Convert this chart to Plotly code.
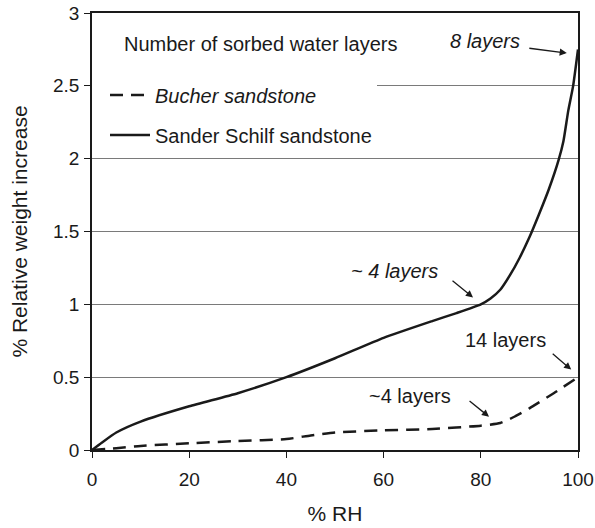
import plotly.graph_objects as go

# % RH and % relative weight increase
rh_schilf = [0, 2, 5, 10, 20, 30, 40, 50, 60, 70, 75, 80, 82, 84, 86, 88, 90, 92, 94, 96, 97, 98, 99, 100]
wt_schilf = [0, 0.05, 0.12, 0.195, 0.30, 0.39, 0.50, 0.63, 0.77, 0.885, 0.94, 1.0, 1.04, 1.10, 1.20,
             1.32, 1.46, 1.62, 1.79, 1.99, 2.12, 2.33, 2.5, 2.75]

rh_bucher = [0, 5, 10, 20, 30, 40, 45, 50, 60, 70, 80, 84, 87, 90, 95, 100]
wt_bucher = [0, 0.012, 0.028, 0.046, 0.062, 0.075, 0.10, 0.12, 0.135, 0.144, 0.167, 0.185,
             0.23, 0.286, 0.39, 0.50]

FONT = "Liberation Sans, Arial, sans-serif"
INK = "#1a1a1a"

fig = go.Figure()
fig.add_trace(go.Scatter(
    x=rh_bucher, y=wt_bucher, mode="lines", name="<i>Bucher sandstone</i>", legendgroup="a",
    line={"color": INK, "width": 2.5, "dash": "13px,8px", "shape": "spline", "smoothing": 0.5},
))
fig.add_trace(go.Scatter(
    x=rh_schilf, y=wt_schilf, mode="lines", name="Sander Schilf sandstone", legendgroup="b",
    line={"color": INK, "width": 2.5, "shape": "spline", "smoothing": 0.5},
))

# text labels
labels = [
    ("Number of sorbed water layers", 6.1, 2.787, "left", False),
    ("8 layers", 80.8, 2.81, "center", True),
    ("~ 4 layers", 62.3, 1.232, "center", True),
    ("14 layers", 85.0, 0.758, "center", False),
    ("~4 layers", 65.4, 0.373, "center", False),
]
for text, x, y, anchor, italic in labels:
    fig.add_annotation(
        x=x, y=y, text=f"<i>{text}</i>" if italic else text, showarrow=False,
        xanchor=anchor, yanchor="middle", font={"size": 20, "color": INK},
    )

# arrows: head position (data) and tail offset (px)
arrows = [(97.7, 2.725, -39, -5), (78.4, 1.047, -22, -18), (98.6, 0.552, -20, -17), (81.7, 0.228, -21, -17)]
for x, y, ax, ay in arrows:
    fig.add_annotation(
        x=x, y=y, ax=ax, ay=ay, text="", showarrow=True,
        arrowhead=2, arrowsize=1.1, arrowwidth=1.3, arrowcolor=INK, standoff=0,
    )

fig.update_layout(
    width=595, height=528,
    margin={"l": 92, "r": 17, "t": 13, "b": 78},
    paper_bgcolor="white", plot_bgcolor="white",
    font={"family": FONT, "size": 19, "color": INK},
    showlegend=True,
    legend={
        "x": 0.0, "y": 0.857, "xanchor": "left", "yanchor": "top",
        "bgcolor": "white", "borderwidth": 0, "font": {"size": 20},
        "tracegroupgap": 11, "indentation": 13, "itemwidth": 40,
    },
)
fig.update_xaxes(
    range=[0, 100], tickvals=[0, 20, 40, 60, 80, 100], showgrid=False, zeroline=False, automargin=False,
    ticks="outside", ticklen=6, tickcolor=INK, showline=True, linecolor=INK, linewidth=1.5, mirror=True,
    ticklabelstandoff=5, ticklabeloverflow="allow",
    title={"text": "% RH", "font": {"size": 21}, "standoff": 18},
)
fig.update_yaxes(
    range=[0, 3], tickvals=[0, 0.5, 1, 1.5, 2, 2.5, 3], showgrid=True, gridcolor="#7a7a7a", gridwidth=1,
    zeroline=False, automargin=False, ticks="outside", ticklen=6, tickcolor=INK, showline=True,
    linecolor=INK, linewidth=1.5, mirror=True, ticklabelstandoff=1, ticklabeloverflow="allow",
    title={"text": "% Relative weight increase", "font": {"size": 21}, "standoff": 20},
)

# drop the page's default 8px body margin so the figure fills the window
fig.write_html(
    "out.html",
    config={"displayModeBar": False},
    post_script="document.body.style.margin = '0';",
)
